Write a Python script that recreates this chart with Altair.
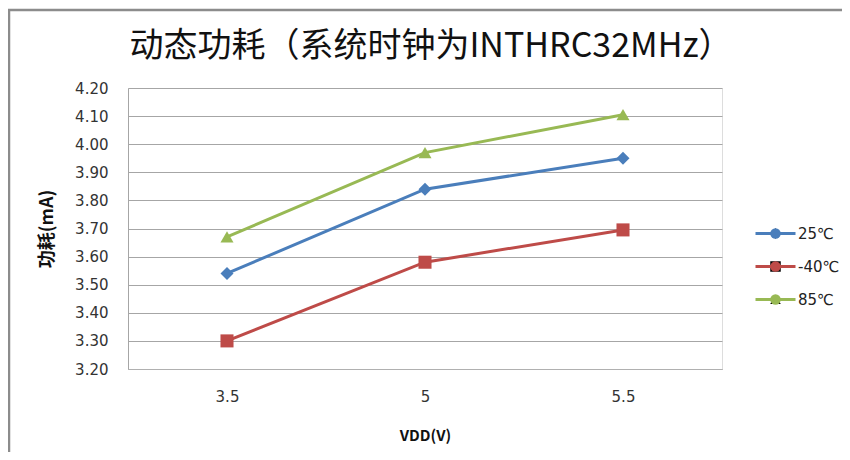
import altair as alt
import pandas as pd

vdd = [3.5, 5, 5.5]
series = ["25℃", "-40℃", "85℃"]
values_25 = [3.54, 3.84, 3.95]
values_m40 = [3.30, 3.58, 3.695]
values_85 = [3.67, 3.97, 4.105]
colors = ["#4a7ebb", "#be4b48", "#98b954"]
shapes = ["diamond", "square", "triangle-up"]
y_ticks = [3.2, 3.3, 3.4, 3.5, 3.6, 3.7, 3.8, 3.9, 4.0, 4.1, 4.2]

rows = []
for name, vals in zip(series, [values_25, values_m40, values_85]):
    for v, y in zip(vdd, vals):
        rows.append({"VDD": str(v), "series": name, "mA": y})
df = pd.DataFrame(rows)

x_enc = alt.X("VDD:O", sort=[str(v) for v in vdd],
              axis=alt.Axis(title="VDD(V)", labelAngle=0, ticks=False,
                            labelPadding=20, titlePadding=24,
                            domainColor="#b0b0b0", labelFontSize=15,
                            labelFont="DejaVu Sans", labelColor="#333333",
                            titleFont="Noto Sans CJK SC", titleFontSize=15,
                            titleFontWeight="bold", titleColor="#111111"))
y_enc = alt.Y("mA:Q", scale=alt.Scale(domain=[3.2, 4.2], nice=False, zero=False),
              axis=alt.Axis(title="功耗(mA)", values=y_ticks, format=".2f", ticks=False,
                            labelPadding=20, grid=True, gridColor="#a6a6a6",
                            domainColor="#a6a6a6", labelFontSize=15,
                            labelFont="DejaVu Sans", labelColor="#333333",
                            titleFont="Noto Sans CJK SC", titleFontSize=18,
                            titleFontWeight="bold", titleColor="#111111",
                            titleX=-81, titleBaseline="middle"))

color_scale = alt.Scale(domain=series, range=colors)
shape_scale = alt.Scale(domain=series, range=shapes)

LEG_X = 640
LEG_Y = 138

lines = alt.Chart(df).mark_line(strokeWidth=3).encode(
    x=x_enc, y=y_enc,
    color=alt.Color("series:N", scale=color_scale, sort=series,
                    legend=alt.Legend(title=None, orient="none", legendX=LEG_X, legendY=LEG_Y,
                                      symbolType="M-4,0H4", symbolSize=100,
                                      symbolStrokeWidth=3, labelFontSize=15,
                                      labelFont="DejaVu Sans", labelColor="#222222",
                                      labelOffset=15, rowPadding=17, padding=0)),
)

pt_legend = alt.Legend(title=None, orient="none", legendX=LEG_X, legendY=LEG_Y,
                       symbolSize=110, labelFontSize=15,
                       labelFont="DejaVu Sans", labelColor="transparent",
                       symbolOpacity=1, symbolStrokeWidth=0,
                       labelOffset=15, rowPadding=17, padding=0)

points = alt.Chart(df).mark_point(filled=True, size=170, opacity=1).encode(
    x=x_enc, y=y_enc,
    color=alt.Color("series:N", scale=color_scale, sort=series, legend=pt_legend),
    shape=alt.Shape("series:N", scale=shape_scale, sort=series, legend=pt_legend),
)

frame = alt.Chart(alt.Data(values=[{"a": 1}])).mark_rect(
    fill=None, stroke="#8c8c8c", strokeWidth=2.5
).encode(x=alt.value(-119), x2=alt.value(830), y=alt.value(-78), y2=alt.value(500))

chart = alt.layer(frame, lines, points).resolve_legend(color="independent").properties(
    width=594, height=281,
    padding={"left": 120, "top": 80, "right": 120, "bottom": 83},
    autosize=alt.AutoSizeParams(type="none"),
    title=alt.TitleParams("动态功耗（系统时钟为INTHRC32MHz）", font="Noto Sans CJK SC",
                          fontSize=34, fontWeight="normal", color="#111111",
                          anchor="middle", frame="group", offset=18, dy=73, dx=6),
).configure_view(stroke=None).configure(background="white")

chart.save("out.html", embed_options={"renderer": "svg", "actions": False})
